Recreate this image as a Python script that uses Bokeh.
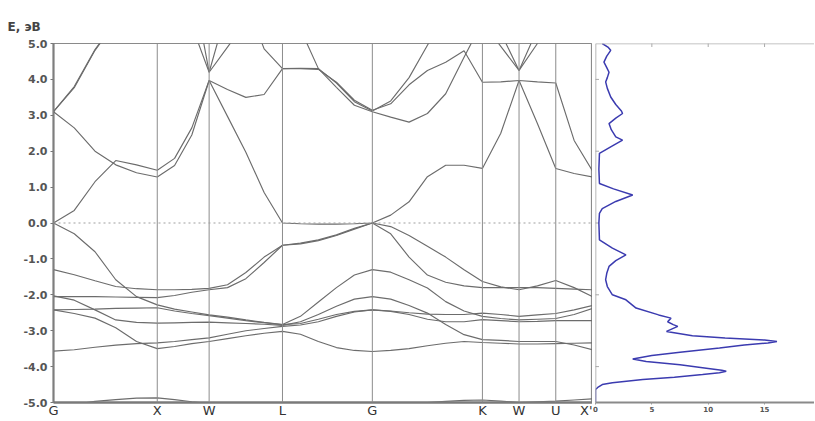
from bokeh.plotting import figure
from bokeh.layouts import row
from bokeh.models import FixedTicker, Span, Range1d
from bokeh.embed import file_html
from bokeh.resources import INLINE

# ---------------- data ----------------
sym_labels = ["G", "X", "W", "L", "G", "K", "W", "U", "X'"]
sym_k = [0.0, 1.0, 1.5, 2.207, 3.073, 4.134, 4.487, 4.841, 5.195]

k_path = [0.0, 0.2, 0.4, 0.6, 0.8, 1.0,
          1.167, 1.333, 1.5,
          1.677, 1.854, 2.030, 2.207,
          2.380, 2.553, 2.727, 2.900, 3.073,
          3.250, 3.427, 3.604, 3.780, 3.957, 4.134,
          4.311, 4.487, 4.664, 4.841, 5.018, 5.195]

# valence bands (eV)
band_v1 = [0.00, -0.30, -0.80, -1.58, -2.05, -2.28, -2.40, -2.48, -2.56, -2.62, -2.70, -2.77, -2.83,
           -2.60, -2.20, -1.80, -1.45, -1.30, -1.37, -1.58, -1.81, -2.19, -2.45, -2.60,
           -2.66, -2.70, -2.68, -2.66, -2.55, -2.38]
band_v2 = [-1.30, -1.44, -1.61, -1.77, -1.83, -1.86, -1.86, -1.85, -1.82, -1.72, -1.38, -0.95, -0.62,
           -0.56, -0.47, -0.33, -0.15, 0.00, -0.30, -0.95, -1.45, -1.65, -1.75, -1.80,
           -1.80, -1.80, -1.80, -1.82, -1.84, -1.86]
band_v3 = [-2.05, -2.05, -2.05, -2.06, -2.07, -2.08, -2.02, -1.93, -1.86, -1.80, -1.55, -1.10, -0.62,
           -0.58, -0.49, -0.35, -0.17, 0.00, -0.10, -0.35, -0.65, -0.95, -1.30, -1.63,
           -1.78, -1.86, -1.75, -1.60, -1.80, -2.05]
band_v4 = [-2.03, -2.15, -2.42, -2.70, -2.77, -2.79, -2.78, -2.77, -2.76, -2.78, -2.80, -2.82, -2.85,
           -2.75, -2.55, -2.32, -2.12, -2.05, -2.12, -2.30, -2.51, -2.83, -3.11, -3.25,
           -3.27, -3.30, -3.30, -3.30, -3.40, -3.53]
band_v5 = [-2.42, -2.41, -2.40, -2.38, -2.37, -2.36, -2.45, -2.52, -2.58, -2.65, -2.72, -2.78, -2.83,
           -2.80, -2.68, -2.55, -2.46, -2.42, -2.45, -2.50, -2.54, -2.55, -2.55, -2.51,
           -2.55, -2.60, -2.56, -2.52, -2.42, -2.30]
band_v6 = [-2.42, -2.52, -2.65, -2.92, -3.30, -3.50, -3.44, -3.36, -3.30, -3.22, -3.14, -3.07, -3.02,
           -3.10, -3.30, -3.47, -3.55, -3.58, -3.55, -3.50, -3.42, -3.35, -3.30, -3.33,
           -3.35, -3.37, -3.37, -3.36, -3.35, -3.34]
band_v7 = [-3.57, -3.53, -3.46, -3.40, -3.36, -3.34, -3.30, -3.25, -3.20, -3.10, -3.00, -2.94, -2.88,
           -2.84, -2.75, -2.60, -2.48, -2.42, -2.46, -2.55, -2.68, -2.75, -2.75, -2.69,
           -2.72, -2.75, -2.74, -2.72, -2.72, -2.72]
band_v8 = [-5.08, -5.05, -4.97, -4.92, -4.88, -4.87, -4.92, -4.98, -5.02, -5.03, -5.03, -5.02, -5.02,
           -5.03, -5.04, -5.05, -5.05, -5.06, -5.05, -5.03, -5.00, -4.97, -4.94, -4.93,
           -4.96, -5.00, -4.98, -4.96, -4.93, -4.90]
# conduction bands (eV)
band_c1 = [0.00, 0.35, 1.15, 1.74, 1.62, 1.47, 1.80, 2.65, 3.97, 2.97, 1.97, 0.85, 0.00,
           -0.02, -0.03, -0.03, -0.02, 0.00, 0.22, 0.59, 1.29, 1.61, 1.61, 1.52,
           2.50, 3.97, 2.77, 1.52, 1.38, 1.28]
band_c2 = [3.10, 2.65, 2.00, 1.62, 1.40, 1.28, 1.60, 2.45, 3.97, 3.72, 3.50, 3.58, 4.30,
           4.30, 4.28, 3.92, 3.42, 3.14, 3.32, 3.85, 4.25, 4.48, 4.80, 3.92,
           3.93, 3.97, 3.93, 3.90, 2.30, 1.45]
band_c3 = [3.10, 3.77, 4.81, 5.60, 6.20, 6.50, 6.30, 5.50, 4.20, 6.00, 6.20, 4.85, 4.30,
           4.31, 4.30, 3.90, 3.38, 3.12, 3.40, 4.05, 4.95, 5.80, 6.50, 7.00,
           5.30, 4.25, 5.00, 6.50, 7.00, 7.00]
band_c4 = [3.10, 3.80, 4.83, 5.62, 6.22, 6.50, 6.80, 6.80, 4.20, 4.90, 5.60, 6.50, 7.00,
           5.40, 4.30, 3.78, 3.28, 3.10, 2.95, 2.81, 3.05, 3.60, 4.62, 5.60,
           4.92, 4.25, 5.40, 6.50, 7.00, 7.00]

bands = [band_v1, band_v2, band_v3, band_v4, band_v5, band_v6, band_v7, band_v8,
         band_c1, band_c2, band_c3, band_c4]

e_ticks = [-5.0, -4.0, -3.0, -2.0, -1.0, 0.0, 1.0, 2.0, 3.0, 4.0, 5.0]
e_tick_labels = ["-5.0", "-4.0", "-3.0", "-2.0", "-1.0", "0.0", "1.0", "2.0", "3.0", "4.0", "5.0"]
e_label = "E, эВ"

# density of states
dos_energy = [5.0, 4.9, 4.81, 4.65, 4.48, 4.33, 4.2, 4.05, 3.93, 3.75, 3.51, 3.3, 3.12, 3.05, 2.92,
              2.77, 2.6, 2.4, 2.31, 2.15, 1.94, 1.5, 1.1, 0.95, 0.78, 0.6, 0.4, 0.27, 0.0, -0.47,
              -0.7, -0.89, -1.05, -1.21, -1.4, -1.58, -1.77, -2.0, -2.14, -2.37, -2.56, -2.65,
              -2.75, -2.83, -2.88, -2.95, -3.02, -3.14, -3.2, -3.26, -3.3, -3.34, -3.4, -3.48,
              -3.6, -3.69, -3.79, -3.86, -3.95, -4.05, -4.1, -4.13, -4.17, -4.22, -4.3, -4.36,
              -4.45, -4.5, -4.58, -4.64, -5.0]
dos_states = [0.6, 1.1, 1.35, 1.0, 0.75, 1.0, 1.2, 1.05, 0.9, 1.05, 1.35, 1.8, 2.3, 2.4, 1.8,
              1.2, 1.4, 1.8, 2.4, 1.5, 0.35, 0.3, 0.35, 1.6, 3.3, 1.8, 0.6, 0.35, 0.3, 0.35,
              1.5, 2.7, 1.8, 1.2, 1.0, 0.9, 1.05, 1.5, 2.7, 3.6, 5.6, 6.7,
              6.4, 6.9, 7.3, 6.8, 6.3, 8.6, 11.5, 15.0, 16.1, 15.3, 13.2, 11.0,
              7.5, 5.0, 3.3, 4.5, 7.5, 10.0, 11.2, 11.6, 11.0, 9.5, 7.0, 4.2,
              1.5, 0.6, 0.2, 0.0, 0.0]
dos_ticks = [0, 5, 10, 15]
dos_side_ticks = [-4.0, -2.0, 0.0, 2.0, 4.0]

# ---------------- layout constants ----------------
W1, H = 592, 420
BL, BT, BB = 53, 43, 17
W2 = 222
DOS_LEFT = 3
DOS_MAX = (W2 - DOS_LEFT) / 11.27

FONT = "DejaVu Sans"
BAND_COLOR = "#6c6c6c"

# ---------------- band structure panel ----------------
p = figure(width=W1, height=H, x_range=Range1d(sym_k[0], sym_k[-1]), y_range=Range1d(-5, 5),
           output_backend="svg", toolbar_location=None, title=e_label,
           min_border_left=BL, min_border_right=0, min_border_top=BT, min_border_bottom=BB)
p.xgrid.visible = False
p.ygrid.visible = False
p.outline_line_color = "#8a8a8a"
p.outline_line_width = 1.2
p.background_fill_color = "white"
p.border_fill_color = "white"

p.title.align = "left"
p.title.offset = -46
p.title.standoff = 20
p.title.text_font = FONT
p.title.text_font_style = "bold"
p.title.text_font_size = "12px"
p.title.text_color = "#444444"

for kx in sym_k:
    p.add_layout(Span(location=kx, dimension="height", line_color="#8c8c8c", line_width=1))
p.add_layout(Span(location=0.0, dimension="width", line_color="#a0a0a0",
                  line_width=1.2, line_dash="2 3"))

for b in bands:
    p.line(k_path, b, line_color=BAND_COLOR, line_width=1.15)

yax = p.yaxis[0]
yax.ticker = FixedTicker(ticks=e_ticks)
yax.major_label_overrides = dict(zip(e_ticks, e_tick_labels))
yax.major_label_text_font = FONT
yax.major_label_text_font_style = "bold"
yax.major_label_text_font_size = "11px"
yax.major_label_text_color = "#555555"
yax.major_tick_out = 3
yax.major_tick_in = 0
yax.major_tick_line_color = "#777777"
yax.minor_tick_line_color = None
yax.axis_line_color = "#707070"
yax.axis_line_width = 2
yax.major_label_standoff = 3

xax = p.xaxis[0]
xax.ticker = FixedTicker(ticks=sym_k)
xax.major_label_overrides = dict(zip(sym_k, sym_labels))
xax.major_label_text_font = FONT
xax.major_label_text_font_size = "13px"
xax.major_label_text_color = "#333333"
xax.major_tick_out = 0
xax.major_tick_in = 0
xax.major_tick_line_color = None
xax.minor_tick_line_color = None
xax.axis_line_color = "#7a7a7a"
xax.axis_line_width = 2.5
xax.major_label_standoff = 0

# ---------------- DOS panel ----------------
p2 = figure(width=W2, height=H, x_range=Range1d(0, DOS_MAX), y_range=p.y_range,
            output_backend="svg", toolbar_location=None,
            min_border_left=DOS_LEFT, min_border_right=0, min_border_top=BT, min_border_bottom=BB)
p2.xgrid.visible = False
p2.ygrid.visible = False
p2.yaxis.visible = False
p2.outline_line_color = None
p2.background_fill_color = "white"
p2.border_fill_color = "white"

p2.add_layout(Span(location=0.0, dimension="height", line_color="#a0a0a0", line_width=1.5))
p2.add_layout(Span(location=5.0, dimension="width", line_color="#b0b0b0", line_width=1.5))
# inner tick marks on the left and top borders
p2.scatter([0.0] * len(dos_side_ticks), dos_side_ticks, marker="dash", size=7,
           line_color="#aaaaaa", line_width=1)
p2.scatter(dos_ticks[1:], [5.0] * len(dos_ticks[1:]), marker="dash", angle=1.5708, size=7,
           line_color="#aaaaaa", line_width=1)

p2.line(dos_states, dos_energy, line_color="#3b3bb0", line_width=1.5)

dx = p2.xaxis[0]
dx.ticker = FixedTicker(ticks=dos_ticks)
dx.major_label_text_font = FONT
dx.major_label_text_font_size = "7px"
dx.major_label_text_font_style = "bold"
dx.major_label_text_color = "#555555"
dx.major_tick_out = 2
dx.major_tick_in = 0
dx.minor_tick_line_color = None
dx.major_tick_line_color = "#999999"
dx.axis_line_color = "#8a8a8a"
dx.axis_line_width = 2
dx.major_label_standoff = 1

layout = row(p, p2)
open("out.html", "w").write(file_html(layout, INLINE))
